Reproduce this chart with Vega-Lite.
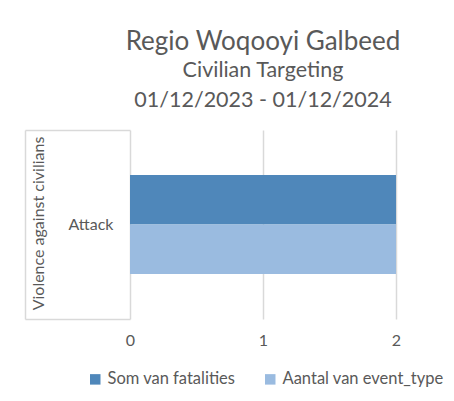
{
  "$schema": "https://vega.github.io/schema/vega-lite/v6.json",
  "width": 266,
  "height": 189,
  "autosize": "none",
  "padding": {"left": 130, "top": 130, "right": 58, "bottom": 82},
  "config": {
    "font": "Lato",
    "view": {"stroke": null}
  },
  "title": {
    "text": "Regio Woqooyi Galbeed",
    "subtitle": ["Civilian Targeting", "01/12/2023 - 01/12/2024"],
    "fontSize": 26,
    "fontWeight": "normal",
    "color": "#595959",
    "subtitleFontSize": 21.5,
    "subtitleColor": "#595959",
    "subtitleLineHeight": 30,
    "subtitlePadding": 5,
    "anchor": "middle",
    "offset": 11
  },
  "data": {
    "values": [
      {"category": "Violence against civilians", "sub_event": "Attack", "series": "Som van fatalities", "value": 2},
      {"category": "Violence against civilians", "sub_event": "Attack", "series": "Aantal van event_type", "value": 2}
    ]
  },
  "mark": {"type": "bar"},
  "encoding": {
    "x": {
      "field": "value",
      "type": "quantitative",
      "scale": {"domain": [0, 2], "nice": false},
      "axis": {
        "values": [0, 1, 2],
        "format": ".0f",
        "title": null,
        "grid": true,
        "gridColor": "#d9d9d9",
        "gridWidth": 1.5,
        "domain": false,
        "ticks": false,
        "labelFlush": false,
        "labelOverlap": false,
        "labelColor": "#595959",
        "labelFontSize": 16,
        "labelPadding": 13
      }
    },
    "y": {
      "field": "sub_event",
      "type": "nominal",
      "scale": {"paddingInner": 0, "paddingOuter": 0},
      "axis": {
        "title": "Violence against civilians",
        "titleFontSize": 16,
        "titleFontWeight": "normal",
        "titleColor": "#595959",
        "titleAngle": 270,
        "titleAlign": "center",
        "titleBaseline": "middle",
        "titleX": 13,
        "titleY": 93,
        "offset": 105,
        "domainColor": "#d9d9d9",
        "domainWidth": 1.5,
        "tickBand": "extent",
        "tickSize": -105,
        "tickColor": "#d9d9d9",
        "tickWidth": 1.5,
        "labelColor": "#595959",
        "labelFontSize": 16,
        "labelPadding": 17
      }
    },
    "yOffset": {
      "field": "series",
      "type": "nominal",
      "sort": ["Som van fatalities", "Aantal van event_type"],
      "scale": {"paddingInner": 0, "paddingOuter": 0.91}
    },
    "color": {
      "field": "series",
      "type": "nominal",
      "sort": ["Som van fatalities", "Aantal van event_type"],
      "scale": {"domain": ["Som van fatalities", "Aantal van event_type"], "range": ["#4f87ba", "#9abbe0"]},
      "legend": {
        "orient": "none",
        "legendX": -43,
        "legendY": 241,
        "direction": "horizontal",
        "title": null,
        "symbolType": "square",
        "symbolSize": 110,
        "symbolStrokeWidth": 0,
        "labelFontSize": 16.5,
        "labelLimit": 300,
        "labelColor": "#595959",
        "columnPadding": 26
      }
    }
  }
}
